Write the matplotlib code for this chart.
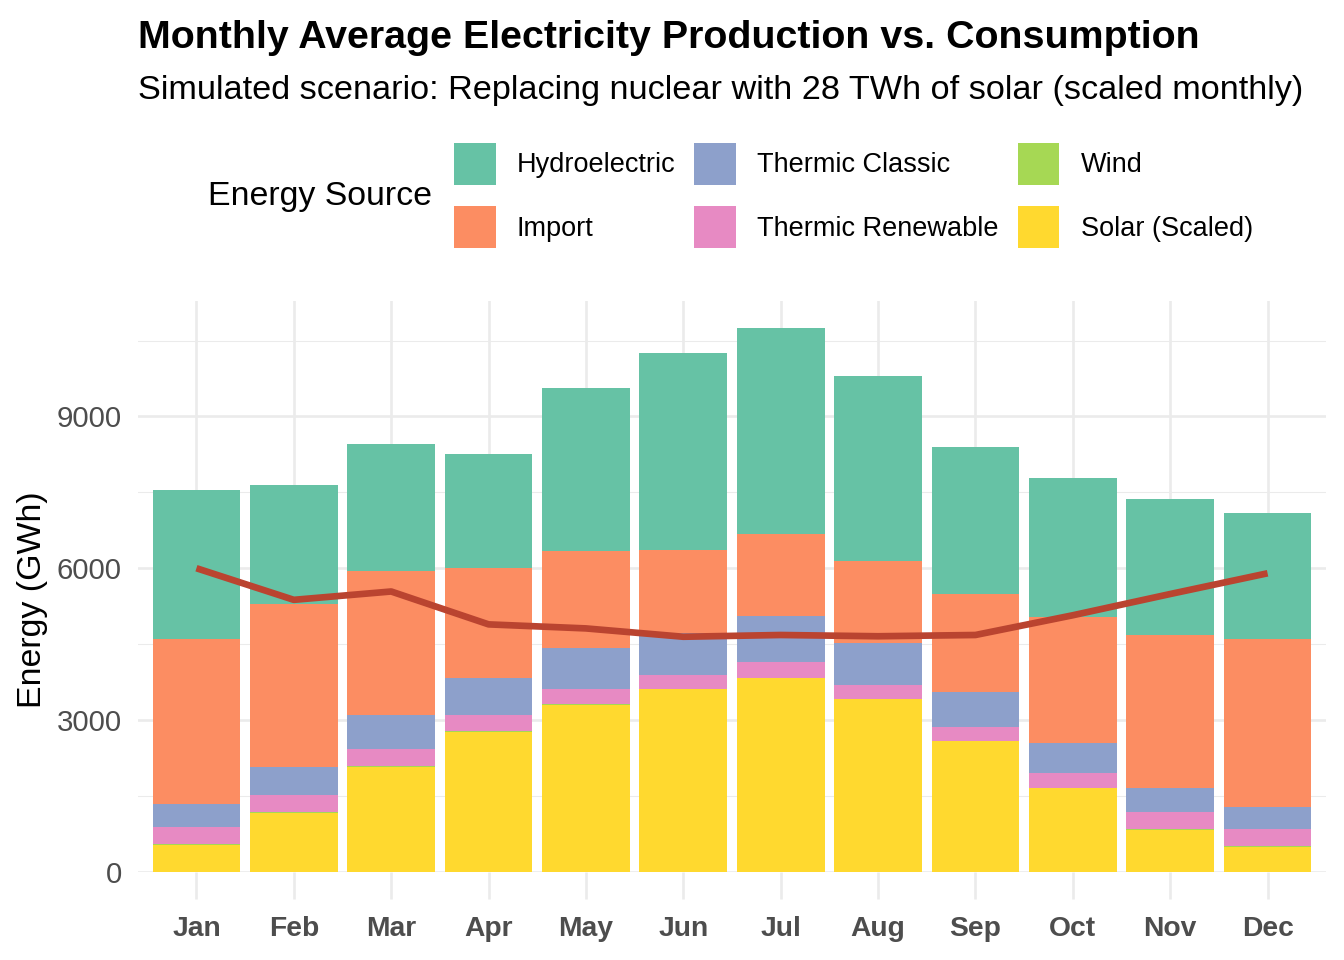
import matplotlib
matplotlib.use("Agg")
import matplotlib.pyplot as plt
import numpy as np

plt.rcParams['font.family'] = ['Liberation Sans', 'DejaVu Sans']

months = ['Jan', 'Feb', 'Mar', 'Apr', 'May', 'Jun', 'Jul', 'Aug', 'Sep', 'Oct', 'Nov', 'Dec']

# monthly averages in GWh
solar = [530, 1160, 2077, 2770, 3300, 3605, 3830, 3410, 2575, 1645, 822, 480]
wind = [20, 20, 20, 10, 15, 8, 8, 5, 7, 19, 20, 20]
thermic_renew = [335, 336, 330, 318, 297, 275, 304, 282, 283, 297, 329, 336]
thermic_classic = [460, 554, 672, 740, 811, 825, 910, 833, 691, 592, 474, 440]
imports = [3250, 3230, 2849, 2174, 1912, 1652, 1623, 1609, 1934, 2473, 3026, 3316]
hydro = [2955, 2348, 2512, 2243, 3225, 3887, 4071, 3655, 2900, 2757, 2697, 2500]
consumption = [6000, 5375, 5540, 4890, 4810, 4645, 4680, 4655, 4680, 5070, 5490, 5900]

# stacking order bottom -> top
stack = [
    ('Solar (Scaled)', solar, '#FFD92F'),
    ('Wind', wind, '#A6D854'),
    ('Thermic Renewable', thermic_renew, '#E78AC3'),
    ('Thermic Classic', thermic_classic, '#8DA0CB'),
    ('Import', imports, '#FC8D62'),
    ('Hydroelectric', hydro, '#66C2A5'),
]
legend_order = ['Hydroelectric', 'Import', 'Thermic Classic',
                'Thermic Renewable', 'Wind', 'Solar (Scaled)']

fig = plt.figure(figsize=(7, 5), dpi=192)
ax = fig.add_axes([138 / 1344, 1 - 871.7 / 960, (1326 - 138) / 1344, (871.7 - 301) / 960])

x = np.arange(1, len(months) + 1)
bottom = np.zeros(len(months))
handles = {}
for name, vals, col in stack:
    b = ax.bar(x, vals, width=0.9, bottom=bottom, color=col, label=name, zorder=2)
    handles[name] = b
    bottom += np.array(vals)

ax.plot(x, consumption, color='#BA4430', lw=2.5, zorder=3, solid_capstyle='butt')

top = bottom.max() * 1.05
ax.set_xlim(0.4, 12.6)
ax.set_ylim(0, top)

ax.set_yticks([0, 3000, 6000, 9000])
ax.set_yticks([1500, 4500, 7500, 10500], minor=True)
ax.set_xticks(x)
ax.set_xticklabels(months, fontweight='bold')

for s in ax.spines.values():
    s.set_visible(False)
ax.grid(axis='y', which='major', color='#EBEBEB', lw=1.0, zorder=0)
ax.grid(axis='y', which='minor', color='#EBEBEB', lw=0.4, zorder=0)
ax.grid(axis='x', which='major', color='#EBEBEB', lw=1.0, zorder=0)
ax.tick_params(axis='y', which='both', length=0, labelsize=11, labelcolor='#4D4D4D', pad=6)
ax.tick_params(axis='x', length=10, width=1.0, color='#EBEBEB', labelsize=10.6,
               labelcolor='#4D4D4D', pad=6.5)

fig.text(33 / 1344, 1 - 600 / 960, 'Energy (GWh)', rotation=90, fontsize=12.7,
         ha='center', va='center')

fig.text(138 / 1344, 1 - 48 / 960, 'Monthly Average Electricity Production vs. Consumption',
         fontsize=14.75, fontweight='bold', ha='left', va='baseline')
fig.text(138 / 1344, 1 - 99 / 960,
         'Simulated scenario: Replacing nuclear with 28 TWh of solar (scaled monthly)',
         fontsize=12.85, ha='left', va='baseline')

fig.text(208 / 1344, 1 - 197 / 960, 'Energy Source', fontsize=12.7, ha='left', va='center')
leg = fig.legend([handles[n] for n in legend_order], legend_order, ncol=3,
                 loc='upper left', bbox_to_anchor=(454 / 1344, 1 - 143 / 960),
                 frameon=False, fontsize=10.2, handlelength=1.53, handleheight=1.98,
                 handletextpad=0.78, columnspacing=0.7, labelspacing=0.8,
                 borderpad=0, borderaxespad=0)

fig.savefig('out.png', dpi=192)
